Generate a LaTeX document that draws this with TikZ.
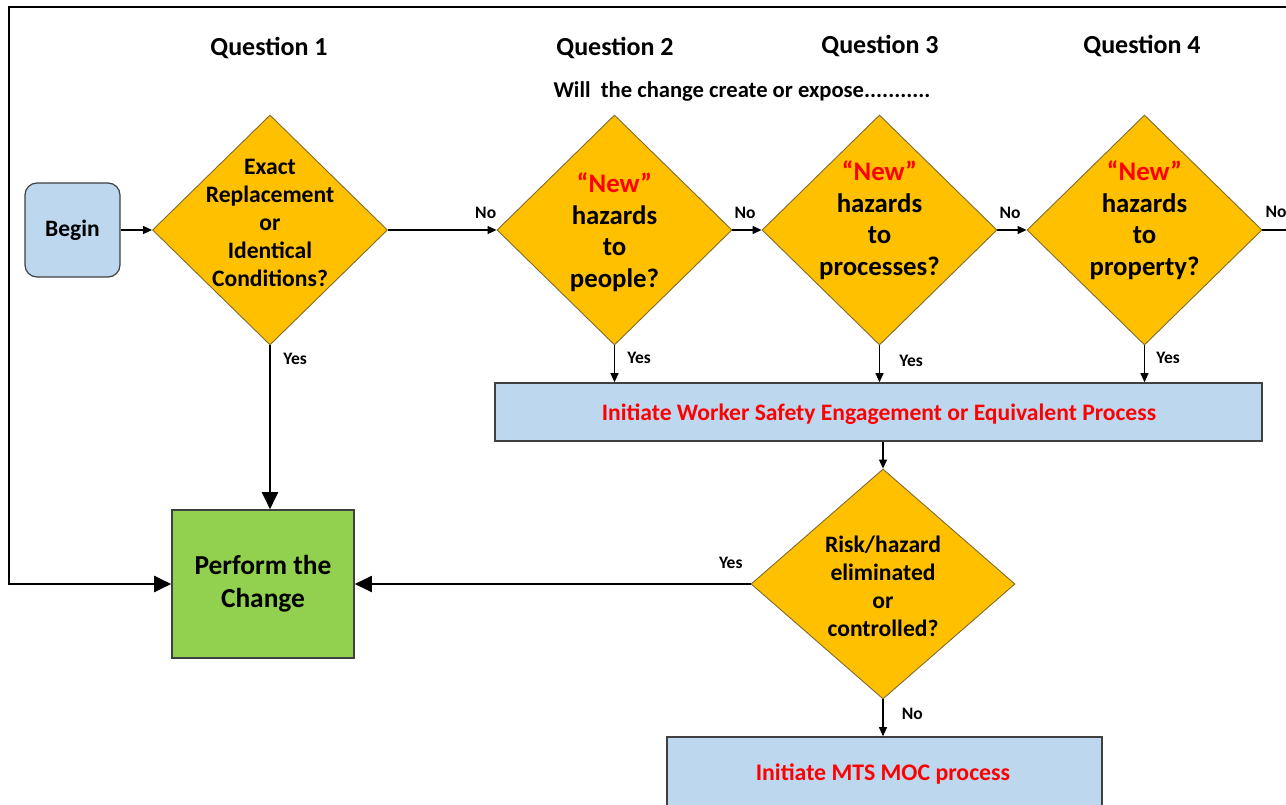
\documentclass[tikz,border=0pt]{standalone}
\usepackage{fontspec}
\setmainfont{Carlito}
\usetikzlibrary{arrows.meta,shapes.geometric}
\definecolor{dfill}{HTML}{FFC000}
\definecolor{dline}{HTML}{7F6A30}
\definecolor{bfill}{HTML}{BDD7EE}
\definecolor{gfill}{HTML}{92D050}
\definecolor{bline}{HTML}{404040}
\definecolor{redt}{HTML}{FF0000}
\tikzset{
  dia/.style={diamond, draw=dline, line width=0.9pt, fill=dfill, inner sep=0pt, shape aspect=1},
  box/.style={draw=bline, line width=1.6pt, fill=bfill, inner sep=0pt},
  dtext/.style={align=center, font=\bfseries\fontsize{23.6}{28}\selectfont},
  ntext/.style={align=center, font=\bfseries\fontsize{26.8}{31.5}\selectfont},
  qtext/.style={font=\bfseries\fontsize{26}{30}\selectfont},
  lab/.style={font=\bfseries\fontsize{17.5}{20}\selectfont},
  conn/.style={line width=1.1pt, -{Triangle[length=9pt,width=8pt]}},
  bigconn/.style={line width=2pt, -{Triangle[length=17pt,width=16pt]}},
}
\begin{document}
\begin{tikzpicture}[x=1pt,y=-1pt]
\useasboundingbox (0,0) rectangle (1286,805);
% frame
\coordinate (tr) at (1295,7);
\coordinate (tl) at (9,7);
% headings
\node[qtext] (q1) at (269,48) {Question 1};
\node[qtext] (q2) at (615,48) {Question 2};
\node[qtext] (q3) at (880,45.5) {Question 3};
\node[qtext] (q4) at (1142,45.5) {Question 4};
\node[font=\bfseries\fontsize{22.6}{26}\selectfont] (will) at (742,91.5) {Will\ \ the change create or expose...........};
% begin
\node[box, line width=1.2pt, rounded corners=12pt, minimum width=95pt, minimum height=94pt, font=\bfseries\fontsize{23.5}{28}\selectfont] (begin) at (72.5,230) {Begin};
% diamonds
\node[dia, minimum width=235pt, minimum height=230pt] (d1) at (270,230) {};
\node[dia, minimum width=235pt, minimum height=230pt] (d2) at (614.5,230) {};
\node[dia, minimum width=235pt, minimum height=230pt] (d3) at (879.5,230) {};
\node[dia, minimum width=235pt, minimum height=230pt] (d4) at (1144.5,230) {};
\node[dia, minimum width=264pt, minimum height=230pt] (d5) at (883,584) {};
\node[dtext] (t1) at (270,222.5) {Exact\\Replacement\\or\\Identical\\Conditions?};
\node[ntext] (t2) at (614.5,232) {\textcolor{redt}{“New”}\\hazards\\to\\people?};
\node[ntext] (t3) at (879.5,220) {\textcolor{redt}{“New”}\\hazards\\to\\processes?};
\node[ntext] (t4) at (1144.5,220) {\textcolor{redt}{“New”}\\hazards\\to\\property?};
\node[dtext] (t5) at (883,586.5) {Risk/hazard\\eliminated\\or\\controlled?};
% boxes
\node[box, fill=gfill, minimum width=182pt, minimum height=148pt, font=\bfseries\fontsize{27.4}{33}\selectfont, align=center] (perf) at (263,584) {Perform the\\Change};
\node[box, minimum width=767pt, minimum height=58pt] (wse) at (878.5,412) {};
\node[font=\bfseries\fontsize{23.6}{28}\selectfont, text=redt] (wset) at (879,414) {Initiate Worker Safety Engagement or Equivalent Process};
\node[box, minimum width=435pt, minimum height=80pt] (moc) at (884.5,777) {};
\node[font=\bfseries\fontsize{23.8}{28}\selectfont, text=redt] (moct) at (883,774) {Initiate MTS MOC process};
% connectors
\draw[bigconn] (tr) -- (tl) |- (perf.west);
\draw[conn] (begin.east) -- (d1.west);
\draw[conn] (d1.east) -- node[lab, pos=0.9, above=7pt] {No} (d2.west);
\draw[conn] (d2.east) -- node[lab, pos=0.43, above=7pt] {No} (d3.west);
\draw[conn] (d3.east) -- node[lab, pos=0.43, above=7pt] {No} (d4.west);
\coordinate (rr) at (1295,230);
\draw[line width=1.4pt] (d4.east) -- node[lab, pos=0.42, above=8pt] {No} (rr);
\draw[bigconn] (d1.south) -- node[lab, pos=0.08, right=9pt] {Yes} (perf.north -| d1.south);
\draw[conn] (d2.south) -- node[lab, pos=0.34, right=9pt] {Yes} (wse.north -| d2.south);
\draw[conn] (d3.south) -- node[lab, pos=0.42, right=16pt] {Yes} (wse.north -| d3.south);
\draw[conn] (d4.south) -- node[lab, pos=0.34, right=8pt] {Yes} (wse.north -| d4.south);
\draw[conn] (wse.south -| d5.north) -- (d5.north);
\draw[bigconn] (d5.west) -- node[lab, pos=0.05, above=11pt] {Yes} (perf.east |- d5.west);
\draw[conn] (d5.south) -- node[lab, pos=0.4, right=15pt] {No} (moc.north -| d5.south);
\end{tikzpicture}
\end{document}
